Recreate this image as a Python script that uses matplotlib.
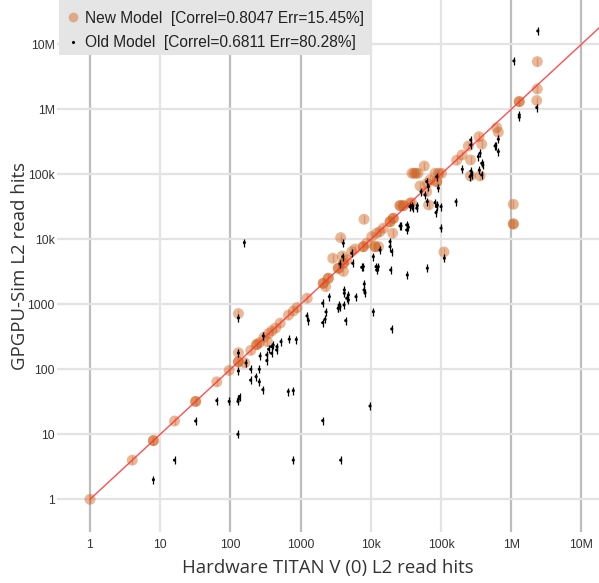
import matplotlib
matplotlib.use("Agg")
import matplotlib.pyplot as plt
from matplotlib.lines import Line2D
from matplotlib.patches import Rectangle
import numpy as np

# ---------------- data ----------------
new_x = [1, 4, 8, 8, 16, 32, 32, 64, 96, 130, 130, 130, 130, 160, 195, 237, 237, 258,
         300, 350, 336, 390, 440, 512, 670, 790, 890, 1240, 2100, 2100, 2480, 2480,
         2270, 2870, 3720, 3930, 3440, 3440, 4060, 4060, 4540, 4060, 5340, 5960,
         7820, 7820, 8740, 8000, 10300, 12100, 11480, 11480, 12880, 13500, 15070,
         18780, 18780, 20900, 20900, 20500, 26050, 26050, 29000, 29000, 36150, 38000,
         38600, 41200, 44000, 47000, 82200, 92000, 101600, 57800, 50200, 62500, 66400,
         63800, 69700, 86900, 86900, 110000, 167000, 199000, 245000, 263000, 263000,
         360000, 348000, 380000, 621000, 655000, 1300000, 1300000, 2350000, 2350000,
         2310000, 1070000, 1070000, 1070000]
new_y = [1, 4, 8, 8, 16, 32, 32, 64, 96, 720, 180, 130, 130, 126, 195, 240, 240, 257,
         310, 355, 266, 390, 430, 512, 680, 790, 890, 1240, 2100, 2100, 2510, 2510,
         1870, 5100, 10600, 5530, 3580, 3580, 4270, 4270, 4800, 3200, 6450, 7090,
         7690, 7690, 8670, 20300, 10960, 12370, 7690, 7690, 7690, 13100, 14760,
         18660, 18660, 21000, 21000, 12400, 32900, 32900, 32900, 32900, 35800, 36600,
         103500, 103500, 103500, 103500, 103500, 103500, 103500, 134000, 66100, 54000,
         33700, 72700, 81700, 76900, 76900, 6380, 164000, 198000, 272000, 166000,
         94200, 94200, 379000, 290000, 521000, 443000, 1310000, 1310000, 5400000,
         2050000, 1360000, 34500, 17200, 17200]

old_x = [8, 16, 32, 64, 96, 128, 130, 135, 128, 130, 130, 130, 167, 195, 194, 232,
         258, 258, 265, 290, 330, 330, 350, 385, 385, 406, 460, 455, 526, 690, 868,
         668, 786, 786, 1233, 1290, 2064, 2064, 2228, 2300, 2064, 2566, 3440, 3440,
         3640, 3550, 4190, 4190, 4540, 4790, 4790, 4150, 4390, 6150, 8000, 8070, 8270,
         10860, 9740, 19850, 3720, 158, 3640, 4060, 3980, 5520, 5340, 7820, 7410,
         11870, 12130, 12790, 10860, 13520, 18780, 18780, 19850, 19200, 26050, 26920,
         32450, 34200, 32450, 33100, 38300, 36150, 39500, 45900, 45100, 51900, 59100,
         62500, 63800, 65900, 63800, 82200, 86900, 88600, 100000, 84900, 91600,
         100000, 86900, 163700, 111400, 201000, 259000, 273700, 267000, 340000,
         359600, 393000, 380000, 588000, 655000, 655000, 601000, 265000, 265000,
         351000, 380000, 1300000, 1300000, 2310000, 2390000, 1090000, 294]
old_y = [2, 4, 16, 33, 32, 32, 34.6, 38, 10, 615, 178, 94, 125, 100, 68, 77, 64, 100,
         160, 48.5, 136, 166, 203, 176, 223, 237, 223, 198, 266, 290, 287, 45.5, 46.9,
         4, 661, 560, 1036, 521, 588, 762, 16.2, 1309, 868, 868, 918, 975, 1660, 1476,
         1237, 1390, 1164, 975, 560, 1309, 1660, 2050, 1508, 769, 27.2, 417, 4, 8870,
         4170, 8670, 5400, 4270, 6090, 3790, 3700, 3790, 3370, 3790, 5400, 6840, 9190,
         7690, 6450, 3370, 16020, 16020, 16600, 15300, 13900, 2820, 32900, 31800,
         30000, 32900, 30000, 54000, 48100, 76900, 37900, 64400, 3580, 36600, 31800,
         33700, 31800, 25700, 60900, 14800, 91800, 37900, 5100, 119000, 91800, 97600,
         112000, 186700, 210600, 139000, 97600, 272000, 223000, 345000, 275000,
         337000, 282000, 116000, 147600, 817000, 753000, 1060000, 16000000, 5530000,
         325]

line_x = [1, 2e7]
line_y = [1, 2e7]

x_ticks = [1, 10, 100, 1000, 1e4, 1e5, 1e6, 1e7]
x_tick_labels = ["1", "10", "100", "1000", "10k", "100k", "1M", "10M"]
y_ticks = [1, 10, 100, 1000, 1e4, 1e5, 1e6, 1e7]
y_tick_labels = ["1", "10", "100", "1000", "10k", "100k", "1M", "10M"]

new_label = "New Model  [Correl=0.8047 Err=15.45%]"
old_label = "Old Model  [Correl=0.6811 Err=80.28%]"

# ---------------- figure ----------------
W, H = 599, 583
fig = plt.figure(figsize=(W / 100, H / 100), dpi=100)
L, R, T, B = 57, 599, 0, 532
ax = fig.add_axes([L / W, 1 - B / H, (R - L) / W, (B - T) / H])
ax.set_xscale("log")
ax.set_yscale("log")
ax.set_xlim(10 ** -0.47, 10 ** 7.25)
ax.set_ylim(10 ** -0.503, 10 ** 7.68)

for s in ax.spines.values():
    s.set_visible(False)

# grid lines
dark_v = {1, 100, 1000, 1e6, 1e7}
for v in x_ticks:
    ax.axvline(v, color="#bdbdbd" if v in dark_v else "#e3e3e3", lw=1.6, zorder=0)
for v in y_ticks:
    ax.axhline(v, color="#e3e3e3", lw=1.6, zorder=0)

ax.set_xticks(x_ticks)
ax.set_xticklabels(x_tick_labels)
ax.set_yticks(y_ticks)
ax.set_yticklabels(y_tick_labels)
ax.minorticks_off()
ax.tick_params(axis="both", length=0, labelsize=8.8, labelcolor="#333333",
               colors="#333333")
ax.tick_params(axis="x", pad=5)
ax.tick_params(axis="y", pad=1.5)
for lab in ax.get_xticklabels() + ax.get_yticklabels():
    lab.set_family("Liberation Sans")

new_c = "#d2601a"
ax.scatter(new_x, new_y, s=62, color=new_c, alpha=0.45, edgecolors="none", zorder=3)
ax.scatter(new_x, new_y, s=36, marker="|", color="#c0703f", alpha=0.45,
           linewidths=1.0, zorder=3)
ax.plot(line_x, line_y, color="#ff3030", lw=1.0, alpha=0.85, zorder=4)
ax.scatter(old_x, old_y, s=5, color="black", edgecolors="none", zorder=5)
ax.scatter(old_x, old_y, s=36, marker="|", color="black", linewidths=0.9, zorder=5)

ax.set_xlabel("Hardware TITAN V (0) L2 read hits", family="Open Sans",
              fontsize=13.4, color="#333333", va="center")
ax.set_ylabel("GPGPU-Sim L2 read hits", family="Open Sans",
              fontsize=13.4, color="#333333", va="center")
ax.xaxis.set_label_coords(0.5, -(568 - B) / (B - T))
ax.yaxis.set_label_coords(-(57 - 20) / (R - L), (B - 266.5) / (B - T))

# legend background box
ax.add_patch(Rectangle((59 / W, 1 - 55 / H), (370 - 59) / W, 55 / H,
                       transform=fig.transFigure, facecolor="#e5e5e5",
                       edgecolor="none", zorder=9, clip_on=False))
handles = [
    Line2D([], [], ls="none", marker="o", ms=7, color=new_c, alpha=0.45, mec="none"),
    Line2D([], [], ls="none", marker=".", ms=2.5, color="black"),
]
leg = ax.legend(handles, [new_label, old_label], loc="upper left",
                bbox_to_anchor=(59 / W, 1.0 - 3 / H), bbox_transform=fig.transFigure,
                frameon=False, borderpad=0.5, handletextpad=0.35,
                handlelength=0.8, labelspacing=0.6, borderaxespad=0,
                prop={"family": "Liberation Sans", "size": 11.2})
for t in leg.get_texts():
    t.set_color("#222222")
leg.set_zorder(10)

fig.savefig("out.png", dpi=100)
